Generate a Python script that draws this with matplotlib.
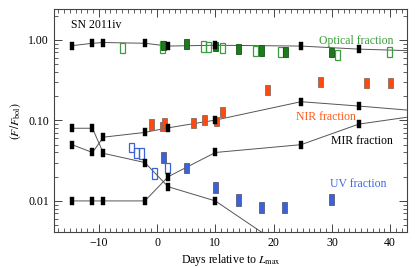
import numpy as np
import matplotlib
matplotlib.use("Agg")
import matplotlib.pyplot as plt
from matplotlib.ticker import MultipleLocator, LogLocator, NullFormatter, FixedLocator, FixedFormatter

plt.rcParams["font.family"] = ["Liberation Serif", "DejaVu Serif"]
plt.rcParams["mathtext.fontset"] = "stix"

# model epochs (black markers); last epoch lies beyond the plotted range
model_days = [-14.6, -11.1, -9.2, -2.1, 1.9, 10.0, 24.7, 34.6, 50.0]
model_opt = [0.85, 0.91, 0.93, 0.91, 0.84, 0.86, 0.84, 0.77, 0.71]
model_a = [0.080, 0.080, 0.039, 0.030, 0.015, 0.010, 0.0019, 0.0010, 0.0006]
model_b = [0.050, 0.040, 0.062, 0.071, 0.081, 0.101, 0.171, 0.151, 0.122]
model_c = [0.010, 0.010, 0.010, 0.010, 0.020, 0.040, 0.050, 0.090, 0.130]

# optical, filled boxes
opt_f_days = [1.1, 5.0, 10.0, 14.0, 17.9, 22.0, 29.9]
opt_f_lo = [0.76, 0.77, 0.72, 0.66, 0.64, 0.61, 0.61]
opt_f_hi = [0.97, 1.04, 0.95, 0.89, 0.87, 0.81, 0.80]
# optical, open boxes
opt_o_days = [-5.9, 0.9, 8.0, 8.8, 11.2, 16.9, 21.1, 30.9, 39.9]
opt_o_lo = [0.68, 0.68, 0.71, 0.70, 0.69, 0.63, 0.61, 0.57, 0.61]
opt_o_hi = [0.91, 0.96, 0.96, 0.94, 0.93, 0.83, 0.81, 0.76, 0.82]
# NIR boxes
nir_days = [-1.0, 1.0, 1.3, 6.2, 8.2, 10.2, 11.3, 19.0, 28.0, 35.9, 40.0]
nir_lo = [0.076, 0.073, 0.080, 0.080, 0.088, 0.085, 0.110, 0.207, 0.258, 0.251, 0.251]
nir_hi = [0.1035, 0.097, 0.107, 0.107, 0.117, 0.111, 0.146, 0.276, 0.344, 0.334, 0.334]
# UV, filled boxes
uv_f_days = [1.05, 5.0, 10.0, 14.0, 17.9, 21.9, 29.9]
uv_f_lo = [0.030, 0.0222, 0.0127, 0.00875, 0.0071, 0.0071, 0.0090]
uv_f_hi = [0.040, 0.0293, 0.0174, 0.0121, 0.0097, 0.0097, 0.0122]
# UV, open boxes
uv_o_days = [-4.4, -3.5, -2.6, -0.45, 1.85]
uv_o_lo = [0.040, 0.034, 0.033, 0.0186, 0.022]
uv_o_hi = [0.053, 0.046, 0.046, 0.0255, 0.030]

green_f = "#1d7a1d"
green_o = "#3d9c3d"
orange = "#ff4a0f"
blue = "#3b62d9"

fig = plt.figure(figsize=(4.15, 2.68), dpi=100)
ax = fig.add_axes([0.130, 0.134, 0.851, 0.831])
ax.set_yscale("log")

box_w = 0.85


def boxes(days, lo, hi, fc, ec, lw=0.6):
    d = np.array(days)
    lo = np.array(lo)
    hi = np.array(hi)
    ax.bar(d, hi - lo, bottom=lo, width=box_w, color=fc, edgecolor=ec,
           linewidth=lw, zorder=3)


for vals in (model_opt, model_a, model_b, model_c):
    ax.plot(model_days, vals, color="#555555", lw=0.7, zorder=2)

boxes(opt_o_days, opt_o_lo, opt_o_hi, "none", green_o, 0.9)
boxes(opt_f_days, opt_f_lo, opt_f_hi, green_f, "#155515")
boxes(nir_days, nir_lo, nir_hi, orange, "#8a6a60")
boxes(uv_o_days, uv_o_lo, uv_o_hi, "none", blue, 0.9)
boxes(uv_f_days, uv_f_lo, uv_f_hi, blue, "#5a5a7a")

mk = [(-0.42, -1), (0.42, -1), (0.42, 1), (-0.42, 1), (-0.42, -1)]
for vals in (model_opt, model_a, model_b, model_c):
    ax.plot(model_days, vals, ls="none", marker=mk, ms=5.2, mfc="black",
            mec="black", mew=0.3, zorder=4)

ax.set_xlim(-17.7, 42.9)
ax.set_ylim(0.0041, 2.4)

ax.xaxis.set_major_locator(MultipleLocator(10))
ax.xaxis.set_minor_locator(MultipleLocator(1))
ax.yaxis.set_major_locator(FixedLocator([0.01, 0.1, 1.0]))
ax.yaxis.set_major_formatter(FixedFormatter(["0.01", "0.10", "1.00"]))
ax.yaxis.set_minor_locator(LogLocator(base=10, subs=np.arange(2, 10)))
ax.yaxis.set_minor_formatter(NullFormatter())
ax.tick_params(which="both", direction="in", top=True, right=True,
               color="#444444", labelsize=8.5)
ax.tick_params(which="major", length=6, width=0.7)
ax.tick_params(which="minor", length=3, width=0.6)
for s in ax.spines.values():
    s.set_color("#444444")
    s.set_linewidth(0.8)

ax.text(0.047, 0.93, "SN 2011iv", transform=ax.transAxes, fontsize=8.5,
        va="center", ha="left")
ax.text(34.2, 0.98, "Optical fraction", color=green_o, fontsize=8.5,
        ha="center", va="center")
ax.text(29.0, 0.109, "NIR fraction", color="#ff5a1a", fontsize=8.5,
        ha="center", va="center")
ax.text(35.1, 0.0553, "MIR fraction", color="black", fontsize=8.5,
        ha="center", va="center")
ax.text(34.6, 0.01645, "UV fraction", color="#3f6ae0", fontsize=8.5,
        ha="center", va="center")

ax.set_xlabel(r"Days relative to $L_{\rm max}$", fontsize=8.5, labelpad=2)
ax.set_ylabel(r"$(F/F_{\rm bol})$", fontsize=8.5, labelpad=4)

fig.savefig("out.png", dpi=100)
